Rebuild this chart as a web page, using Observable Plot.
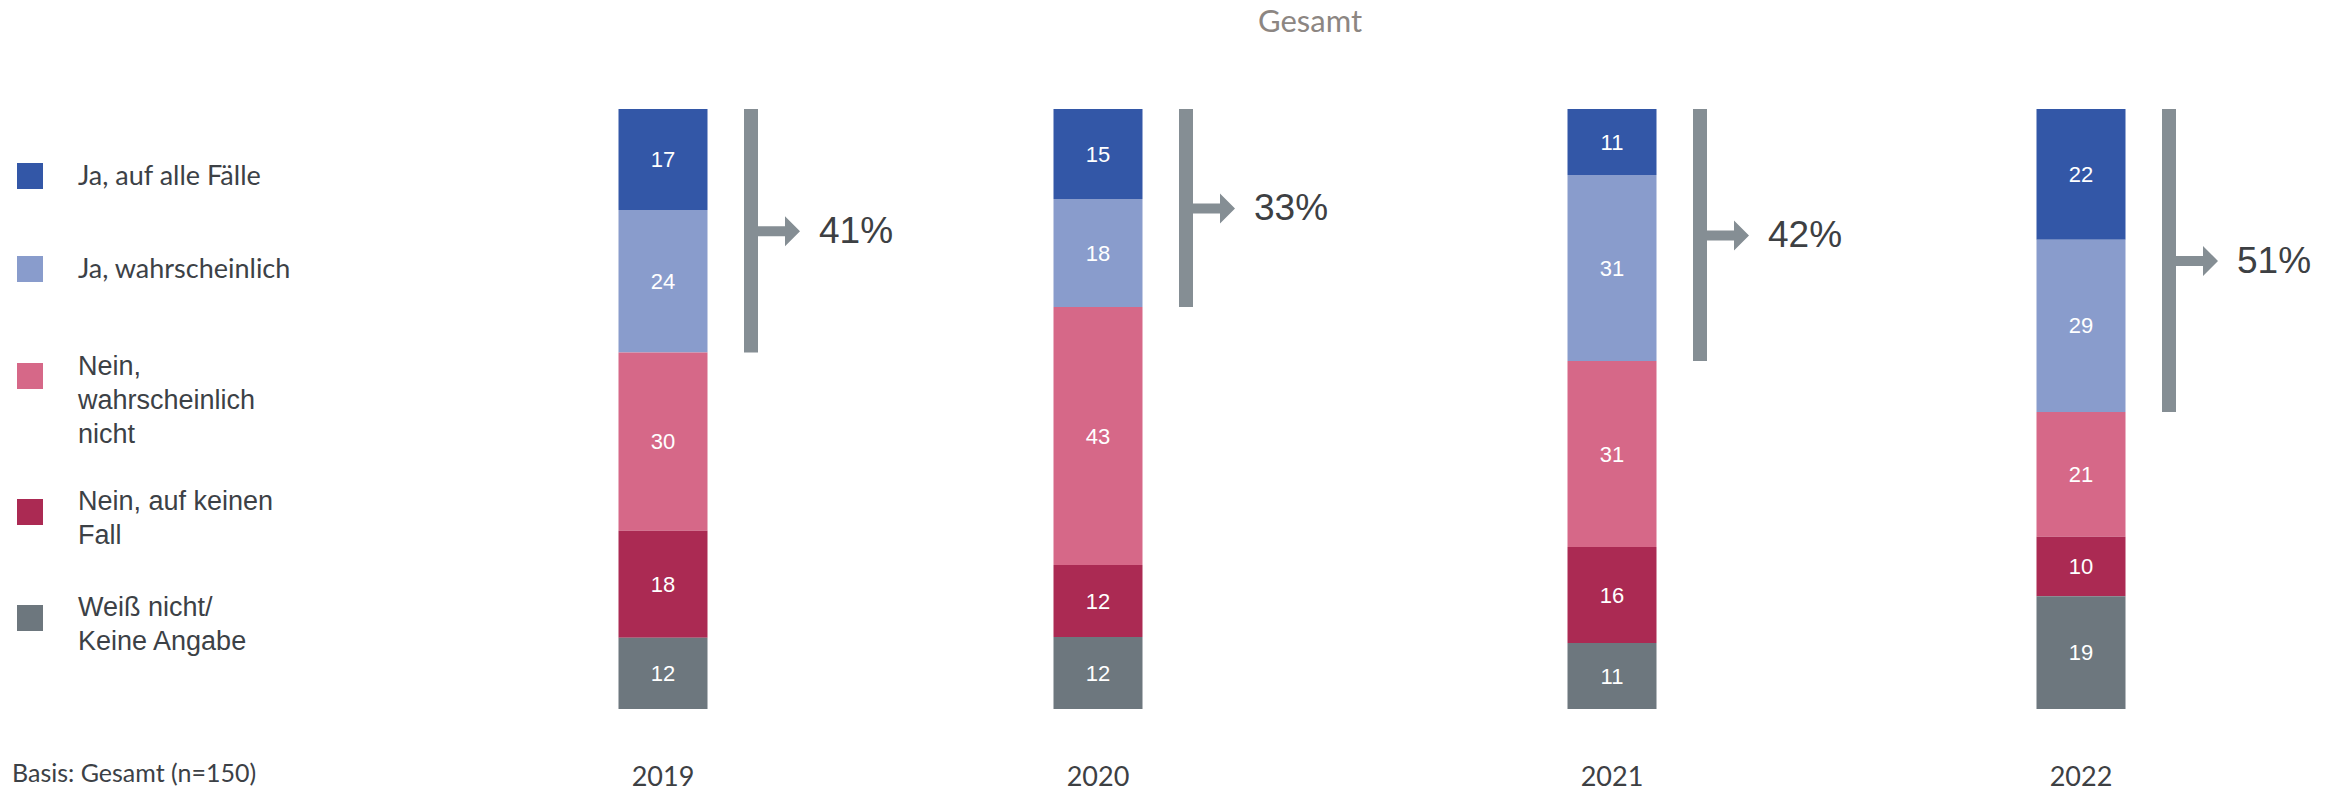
<!DOCTYPE html>
<html><head><meta charset="utf-8">
<script src="https://cdn.jsdelivr.net/npm/d3@7"></script>
<script src="https://cdn.jsdelivr.net/npm/@observablehq/plot@0.6"></script>
<style>
html,body{margin:0;padding:0;background:#fff;}
body{width:2343px;height:792px;position:relative;overflow:hidden;}
#title{position:absolute;left:0;top:0;height:48px;line-height:40px;font-family:Lato,sans-serif;font-size:31px;color:#8c8682;text-align:center;padding-left:277px;box-sizing:border-box;width:2343px;}
#chart{margin-left:600px;width:1743px;height:792px;}
.lg-sw{position:absolute;left:17px;width:26px;height:26px;}
.lg-tx{position:absolute;left:78px;font-size:27px;line-height:34px;color:#3c4146;white-space:nowrap;}
#caption{position:absolute;left:12px;top:757px;font-family:Lato,sans-serif;font-size:25px;line-height:30px;color:#3c4146;white-space:nowrap;}
</style></head>
<body>
<div id="chart"></div>
<div id="title">Gesamt</div>
<div id="legend"></div>
<div id="caption">Basis: Gesamt (n=150)</div>
<script>
// ---- data ----
const years = [2019, 2020, 2021, 2022];
const categories = ["Ja, auf alle Fälle", "Ja, wahrscheinlich", "Nein, wahrscheinlich nicht", "Nein, auf keinen Fall", "Weiß nicht/Keine Angabe"];
const legendLines = [["Ja, auf alle Fälle"], ["Ja, wahrscheinlich"], ["Nein,", "wahrscheinlich", "nicht"], ["Nein, auf keinen", "Fall"], ["Weiß nicht/", "Keine Angabe"]];
const jaAufAlleFaelle = [17, 15, 11, 22];
const jaWahrscheinlich = [24, 18, 31, 29];
const neinWahrscheinlichNicht = [30, 43, 31, 21];
const neinAufKeinenFall = [18, 12, 16, 10];
const weissNicht = [12, 12, 11, 19];

// ---- styles ----
const colors = ["#3357a7", "#899ccc", "#d66888", "#ab2a53", "#6d777e"];
const bracketColor = "#858e94";
const textColor = "#3d4043";
const arialFont = "'Liberation Sans', Arial, sans-serif";

// ---- derived tables ----
const series = [jaAufAlleFaelle, jaWahrscheinlich, neinWahrscheinlichNicht, neinAufKeinenFall, weissNicht];
const rows = years.flatMap((year, i) => categories.map((category, k) => ({year, category, value: series[k][i]})));
const totals = years.map((_, i) => d3.sum(series, s => s[i]));
const brackets = years.map((year, i) => {
  const yes = jaAufAlleFaelle[i] + jaWahrscheinlich[i];
  return {year, yes, share: yes / totals[i]};
});

// arrow glyph drawn as a custom dot symbol (shaft + head), pixels relative to bracket centre
const arrowSymbol = {
  draw(ctx) {
    ctx.moveTo(5, -5); ctx.lineTo(34, -5); ctx.lineTo(34, -15); ctx.lineTo(49, 0);
    ctx.lineTo(34, 15); ctx.lineTo(34, 5); ctx.lineTo(5, 5); ctx.closePath();
  }
};

const stackOpts = {offset: "normalize"};
const marks = [
  Plot.ruleX(rows, Plot.stackY(stackOpts, {x: "year", y: "value", z: "category", stroke: "category", strokeWidth: 89})),
  Plot.text(rows, Plot.stackY(stackOpts, {x: "year", y: "value", z: "category", text: d => String(d.value), fill: "white", fontSize: 22, fontFamily: arialFont})),
  Plot.ruleX(brackets, {x: "year", y1: 0, y2: "share", dx: 88, stroke: bracketColor, strokeWidth: 14}),
  Plot.dot(brackets, {x: "year", y: d => d.share / 2, dx: 88, symbol: arrowSymbol, fill: bracketColor, stroke: "none"}),
  Plot.text(brackets, {x: "year", y: d => d.share / 2, dx: 156, text: d => d.yes + "%", textAnchor: "start", fontSize: 37, fontFamily: arialFont, fill: textColor})
];
if (typeof Plot.axisX === "function") {
  marks.push(Plot.axisX(years, {tickSize: 0, tickPadding: 57, tickFormat: d => String(d), label: null}));
} else {
  marks.push(Plot.text(years, {x: d => d, frameAnchor: "bottom", dy: 67, text: d => String(d)}));
}

const chart = Plot.plot({
  width: 1743, height: 792,
  marginTop: 109, marginBottom: 83, marginLeft: 0, marginRight: 0,
  style: {fontFamily: "Lato, sans-serif", fontSize: "27px", color: textColor, background: "transparent"},
  x: {type: "linear", domain: years, range: [62.5, 497.5, 1011.5, 1480.5], axis: null},
  y: {domain: [0, 1], reverse: true, axis: null},
  color: {domain: categories, range: colors},
  marks
});
document.getElementById("chart").appendChild(chart);

// ---- legend (HTML, built from categories/colours) ----
const lgSquareTop = [163, 256, 363, 499, 605];
const lgTextCenter = [176, 269, 366, 501, 607];
const lgFonts = ["Lato", "Lato", "Liberation Sans", "Liberation Sans", "Liberation Sans"];
const legend = document.getElementById("legend");
categories.forEach((c, k) => {
  const sw = document.createElement("div");
  sw.className = "lg-sw";
  sw.style.top = lgSquareTop[k] + "px";
  sw.style.background = colors[k];
  legend.appendChild(sw);
  const tx = document.createElement("div");
  tx.className = "lg-tx";
  const lato = lgFonts[k] === "Lato";
  tx.style.fontFamily = lato ? "Lato, sans-serif" : arialFont;
  tx.style.top = (lgTextCenter[k] - (lato ? 17.7 : 16.6)) + "px";
  legendLines[k].forEach((line, j) => {
    if (j) tx.appendChild(document.createElement("br"));
    tx.appendChild(document.createTextNode(line));
  });
  legend.appendChild(tx);
});
</script>
</body></html>
